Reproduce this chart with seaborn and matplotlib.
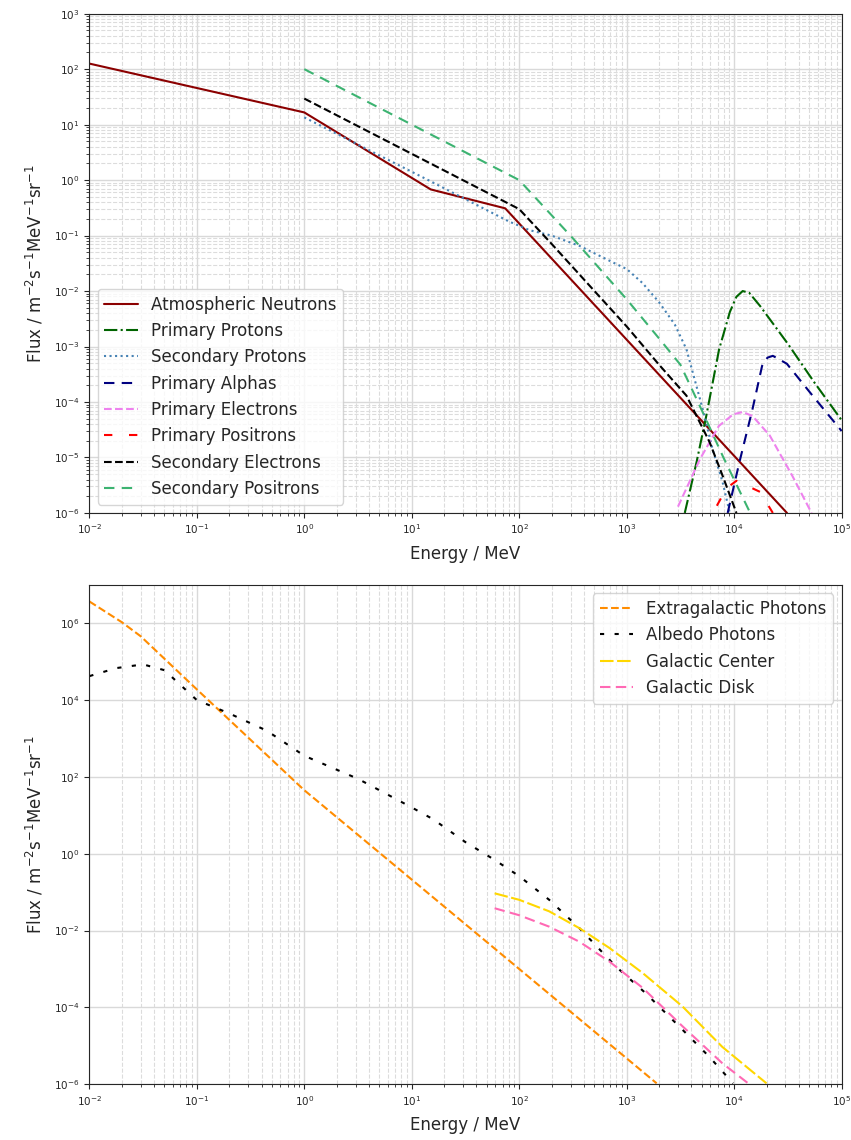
import matplotlib
matplotlib.use("Agg")
import matplotlib.pyplot as plt
import seaborn as sns

# ---- top panel: charged particles / neutrons (E in MeV, flux) ----
neutron_E = [1e-2, 1.0, 15.0, 74.0, 3.1e4]
neutron_flux = [126, 16.6, 0.68, 0.31, 1.0e-6]

pprot_E = [3470, 4470, 5500, 7240, 9120, 10500, 12000, 13800, 17400, 31600, 56200, 1e5]
pprot_flux = [1e-6, 8.3e-6, 5.6e-5, 8.9e-4, 4.2e-3, 7.9e-3, 1.0e-2, 9.3e-3, 5.4e-3,
              1.12e-3, 2.2e-4, 4.7e-5]

sprot_E = [1, 15, 80, 125, 200, 365, 740, 1000, 1400, 2000, 2800, 3600, 5100, 6300, 7800, 9100]
sprot_flux = [13.5, 0.95, 0.18, 0.125, 0.1, 0.065, 0.033, 0.025, 0.014, 6.3e-3, 2.5e-3,
              8.9e-4, 7.4e-5, 1.4e-5, 3.6e-6, 1.0e-6]

alpha_E = [8700, 11200, 14800, 18200, 20400, 22900, 30900, 53700, 1e5]
alpha_flux = [1e-6, 8.3e-6, 7.4e-5, 4.5e-4, 6.3e-4, 6.8e-4, 4.9e-4, 1.3e-4, 3.0e-5]

pelec_E = [3000, 4800, 7200, 9800, 12000, 14800, 21400, 34700, 52500]
pelec_flux = [1.3e-6, 9.3e-6, 3.7e-5, 6.0e-5, 6.6e-5, 5.6e-5, 2.5e-5, 4.7e-6, 1e-6]

ppos_E = [6900, 8500, 10500, 17400, 22900]
ppos_flux = [1.35e-6, 2.8e-6, 3.8e-6, 2.4e-6, 1e-6]

selec_E = [1, 100, 200, 560, 1000, 2000, 3600, 5900, 7800, 10500]
selec_flux = [29.5, 0.3, 0.071, 7.9e-3, 2.3e-3, 4.7e-4, 1.3e-4, 1.9e-5, 4.7e-6, 1.0e-6]

spos_E = [1, 100, 316, 1000, 2000, 3160, 5000, 7940, 14100]
spos_flux = [100, 1.0, 0.089, 7.1e-3, 1.4e-3, 4.7e-4, 7.1e-5, 1.0e-5, 1.0e-6]

# ---- bottom panel: photons ----
extra_E = [0.01, 0.02, 0.03, 0.1, 1.0, 1900]
extra_flux = [3.7e6, 1.07e6, 4.6e5, 1.9e4, 45, 1.05e-6]

albedo_E = [0.01, 0.0178, 0.0316, 0.05, 0.1, 0.2, 0.447, 1.0, 3.16, 10, 15.8, 31.6,
            59, 100, 190, 363, 794, 1510, 3310, 5890, 9770]
albedo_flux = [4.2e4, 6.8e4, 8.5e4, 6.0e4, 1.0e4, 4.5e3, 1.6e3, 355, 89, 16, 7.9, 2.0,
               0.69, 0.26, 0.063, 0.0115, 1.15e-3, 2.3e-4, 2.6e-5, 5.1e-6, 1.05e-6]

gcenter_E = [59, 100, 190, 363, 692, 1410, 3310, 7760, 20000]
gcenter_flux = [0.093, 0.063, 0.0316, 0.0115, 3.5e-3, 7.8e-4, 1.05e-4, 9.3e-6, 1.05e-6]

gdisk_E = [59, 100, 190, 363, 692, 1410, 3310, 7760, 13500]
gdisk_flux = [0.038, 0.025, 0.0126, 5.1e-3, 1.55e-3, 3.2e-4, 3.2e-5, 3.5e-6, 1.05e-6]

sns.set_style("ticks")
plt.rcParams['font.family'] = ['DejaVu Sans']

fig, (ax1, ax2) = plt.subplots(2, 1, figsize=(8.51, 11.4), dpi=100)
fig.subplots_adjust(left=0.105, right=0.989, top=0.988, bottom=0.049, hspace=0.144)

for ax in (ax1, ax2):
    ax.set_xscale('log')
    ax.set_yscale('log')

top_series = [
    (neutron_E, neutron_flux, 'darkred', '-', 'Atmospheric Neutrons'),
    (pprot_E, pprot_flux, 'darkgreen', '-.', 'Primary Protons'),
    (sprot_E, sprot_flux, 'steelblue', ':', 'Secondary Protons'),
    (alpha_E, alpha_flux, 'navy', (0, (5, 3.5)), 'Primary Alphas'),
    (pelec_E, pelec_flux, 'violet', '--', 'Primary Electrons'),
    (ppos_E, ppos_flux, 'red', (0, (4, 8)), 'Primary Positrons'),
    (selec_E, selec_flux, 'black', '--', 'Secondary Electrons'),
    (spos_E, spos_flux, 'mediumseagreen', (0, (5, 3.5)), 'Secondary Positrons'),
]
for E, f, c, ls, lab in top_series:
    sns.lineplot(x=E, y=f, ax=ax1, color=c, linestyle=ls, lw=1.5, label=lab)

bottom_series = [
    (extra_E, extra_flux, 'darkorange', '--', 'Extragalactic Photons'),
    (albedo_E, albedo_flux, 'black', (0, (2, 5)), 'Albedo Photons'),
    (gcenter_E, gcenter_flux, 'gold', (0, (6.5, 1.7)), 'Galactic Center'),
    (gdisk_E, gdisk_flux, 'hotpink', (0, (5, 2.6)), 'Galactic Disk'),
]
for E, f, c, ls, lab in bottom_series:
    sns.lineplot(x=E, y=f, ax=ax2, color=c, linestyle=ls, lw=1.5, label=lab)

ax1.set_xlim(1e-2, 1e5)
ax1.set_ylim(1e-6, 1e3)
ax2.set_xlim(1e-2, 1e5)
ax2.set_ylim(1e-6, 1e7)

ylab = r"Flux / m$^{-2}$s$^{-1}$MeV$^{-1}$sr$^{-1}$"
for ax in (ax1, ax2):
    ax.grid(True, which='major', color='#d9d9d9', lw=1.0, ls='-')
    ax.grid(True, which='minor', color='#dcdcdc', lw=0.8, ls='--')
    ax.set_axisbelow(True)
    ax.tick_params(labelsize=7.5)
    ax.set_xlabel("Energy / MeV", fontsize=12, labelpad=6)
    ax.set_ylabel(ylab, fontsize=12, labelpad=6)

ax1.legend(loc='lower left', fontsize=12)
ax2.legend(loc='upper right', fontsize=12)

plt.savefig('out.png', dpi=100)
